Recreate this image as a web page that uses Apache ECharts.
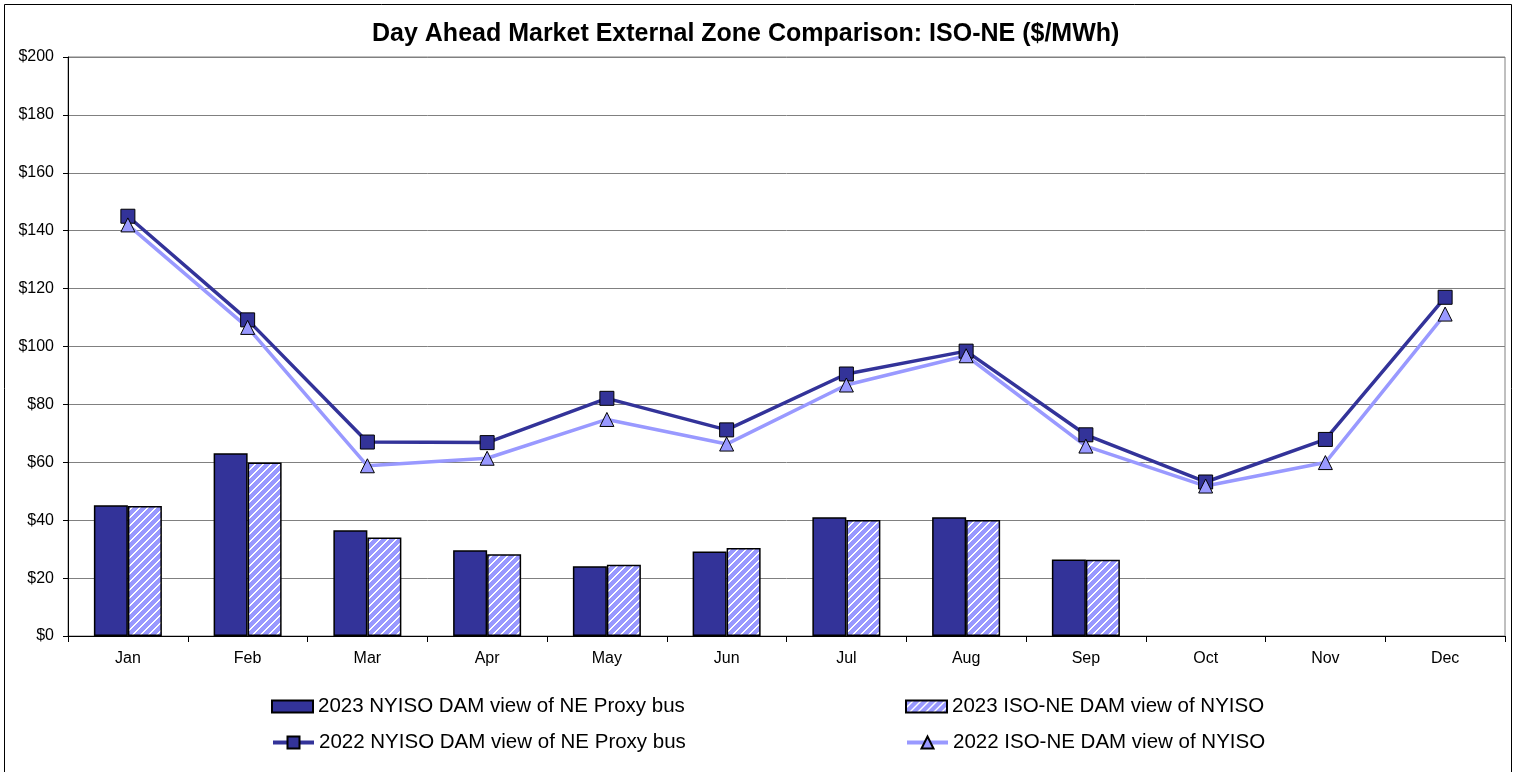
<!DOCTYPE html>
<html style="height: 100%">
<head>
    <meta charset="utf-8">
    <script src="https://cdn.jsdelivr.net/npm/echarts@6/dist/echarts.min.js"></script>
</head>
<body style="height: 100%; margin: 0; background: #fff">
    <div id="main" style="width:1515px;height:772px;"></div>
    <script type="text/javascript">
    var months = ['Jan', 'Feb', 'Mar', 'Apr', 'May', 'Jun', 'Jul', 'Aug', 'Sep', 'Oct', 'Nov', 'Dec'];
    var yTicks = [0, 20, 40, 60, 80, 100, 120, 140, 160, 180, 200];
    // 2023 bars (through Sep)
    var nyiso2023 = [45.2, 63.1, 36.5, 29.6, 24.1, 29.2, 41.0, 41.0, 26.4];
    var isone2023 = [44.9, 59.9, 34.0, 28.2, 24.6, 30.4, 40.1, 40.1, 26.3];
    // 2022 lines
    var nyiso2022 = [145.0, 109.2, 67.0, 66.8, 82.1, 71.2, 90.5, 98.4, 69.5, 53.2, 67.9, 117.0];
    var isone2022 = [142.0, 106.6, 58.8, 61.4, 74.8, 66.3, 86.7, 96.8, 65.6, 51.8, 59.9, 111.2];

    var names = [
        '2023 NYISO DAM view of NE Proxy bus',
        '2023 ISO-NE DAM view of NYISO',
        '2022 NYISO DAM view of NE Proxy bus',
        '2022 ISO-NE DAM view of NYISO'
    ];

    // striped fill for the ISO-NE bars
    var tile = document.createElement('canvas');
    tile.width = 8;
    tile.height = 8;
    var tctx = tile.getContext('2d');
    for (var px = 0; px < 8; px++) {
        for (var py = 0; py < 8; py++) {
            tctx.fillStyle = ((px + py) % 8 < 6) ? '#9999ff' : '#ffffff';
            tctx.fillRect(px, py, 1, 1);
        }
    }

    var font = 'Liberation Sans, Arial, sans-serif';
    var myChart = echarts.init(document.getElementById('main'));

    function legendAt(name, left, top, isBar) {
        var lg = {
            data: [name],
            left: left,
            top: top,
            itemWidth: 41,
            itemHeight: isBar ? 12 : 15,
            selectedMode: false,
            textStyle: { fontFamily: font, fontSize: 20.5, color: '#000' }
        };
        if (isBar) {
            lg.icon = 'rect';
        } else {
            lg.lineStyle = { width: 4 };
        }
        return lg;
    }

    var option = {
        animation: false,
        textStyle: { fontFamily: font },
        title: {
            text: 'Day Ahead Market External Zone Comparison: ISO-NE ($/MWh)',
            left: 367,
            top: 17,
            textStyle: { fontFamily: font, fontSize: 25, fontWeight: 'bold', color: '#000' }
        },
        graphic: [{
            type: 'rect',
            shape: { x: 4.5, y: 4.5, width: 1507, height: 780 },
            style: { fill: 'none', stroke: '#000', lineWidth: 1 },
            silent: true
        }],
        legend: [
            legendAt(names[0], 266, 691, true),
            legendAt(names[1], 900, 691, true),
            legendAt(names[2], 266, 727, false),
            legendAt(names[3], 900, 727, false)
        ],
        grid: {
            left: 68, right: 10, top: 57, bottom: 136,
            show: true, borderColor: '#808080', borderWidth: 1
        },
        xAxis: {
            type: 'category',
            data: months,
            boundaryGap: true,
            axisLine: { lineStyle: { color: '#000', width: 1 } },
            axisTick: { show: true, interval: 0, length: 6, lineStyle: { color: '#000' } },
            axisLabel: { color: '#000', fontSize: 16, margin: 15, fontFamily: font }
        },
        yAxis: {
            type: 'value',
            min: yTicks[0],
            max: yTicks[yTicks.length - 1],
            interval: 20,
            axisLine: { show: true, lineStyle: { color: '#000', width: 1 } },
            axisTick: { show: true, length: 5, lineStyle: { color: '#000' } },
            axisLabel: { color: '#000', fontSize: 16, margin: 14, fontFamily: font, formatter: '${value}' },
            splitLine: { lineStyle: { color: '#808080', width: 1 } }
        },
        series: [{
            name: names[0],
            type: 'bar',
            data: nyiso2023,
            barWidth: 34,
            barGap: '0%',
            itemStyle: { color: '#333399', borderColor: '#000', borderWidth: 1.5 }
        }, {
            name: names[1],
            type: 'bar',
            data: isone2023,
            barWidth: 34,
            barGap: '0%',
            itemStyle: { color: { image: tile, repeat: 'repeat' }, borderColor: '#000', borderWidth: 1.5 }
        }, {
            name: names[2],
            type: 'line',
            data: nyiso2022,
            symbol: 'rect',
            symbolSize: 14,
            lineStyle: { color: '#333399', width: 3.5 },
            itemStyle: { color: '#333399', borderColor: '#000', borderWidth: 1 }
        }, {
            name: names[3],
            type: 'line',
            data: isone2022,
            symbol: 'triangle',
            symbolSize: 14,
            lineStyle: { color: '#9999ff', width: 3.5 },
            itemStyle: { color: '#9999ff', borderColor: '#000', borderWidth: 1 }
        }]
    };

    myChart.setOption(option, true);
    </script>
</body>
</html>
